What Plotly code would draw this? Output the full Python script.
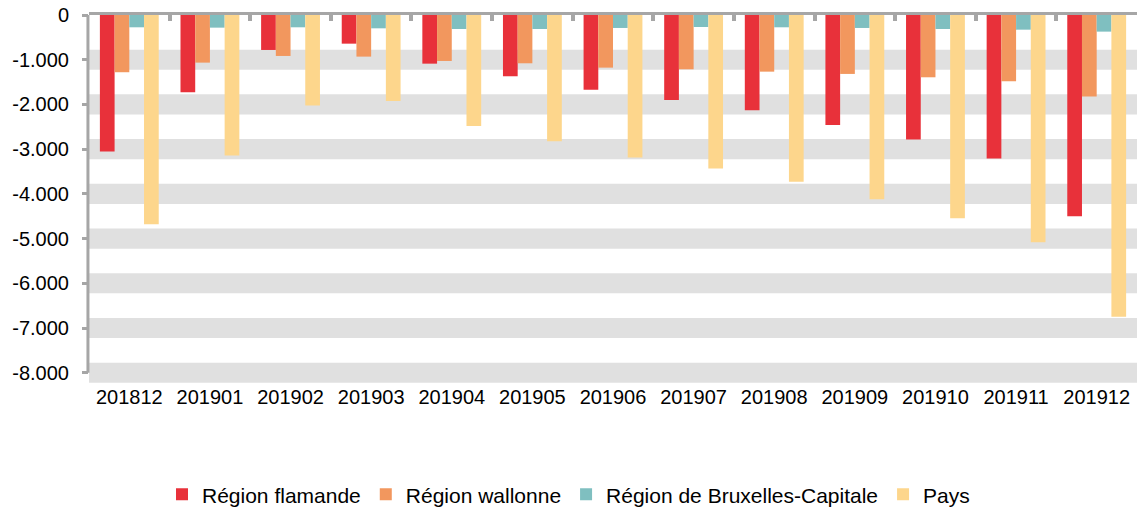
import plotly.graph_objects as go

months = ["201812", "201901", "201902", "201903", "201904", "201905", "201906",
          "201907", "201908", "201909", "201910", "201911", "201912"]
flamande = [-3055, -1728, -782, -641, -1088, -1370, -1669, -1899, -2130, -2458, -2786, -3210, -4500]
wallonne = [-1280, -1065, -916, -931, -1028, -1080, -1177, -1214, -1267, -1318, -1393, -1483, -1825]
bruxelles = [-275, -283, -275, -298, -313, -313, -290, -268, -275, -290, -313, -328, -372]
pays = [-4680, -3143, -2026, -1922, -2480, -2823, -3188, -3434, -3732, -4120, -4545, -5080, -6750]

series_names = ["Région flamande", "Région wallonne", "Région de Bruxelles-Capitale", "Pays"]
series_values = [flamande, wallonne, bruxelles, pays]
colors = ["#E8313A", "#F2975E", "#7FBFC0", "#FDD68C"]

y_tickvals = [0, -1000, -2000, -3000, -4000, -5000, -6000, -7000, -8000]
y_ticktext = ["0", "-1.000", "-2.000", "-3.000", "-4.000", "-5.000", "-6.000", "-7.000", "-8.000"]

FONT = "Arial, Liberation Sans, sans-serif"
GRAY = "#A6A6A6"
BAND = "#E0E0E0"
band_half = 225
x_range = [-0.5, len(months) - 0.5]

fig = go.Figure()
for name, vals, col in zip(series_names, series_values, colors):
    fig.add_trace(go.Bar(x=months, y=vals, name=name, marker=dict(color=col, line=dict(width=0))))

# invisible trace to anchor top axis
fig.add_trace(go.Scatter(x=months, y=[0] * len(months), xaxis="x2", mode="markers",
                         marker=dict(opacity=0, size=1), showlegend=False, hoverinfo="skip"))

shapes = []
for v in y_tickvals[1:]:
    shapes.append(dict(type="rect", xref="paper", yref="y", x0=0, x1=1,
                       y0=v + band_half, y1=v - band_half, fillcolor=BAND,
                       line=dict(width=0), layer="below"))
shapes.append(dict(type="line", xref="paper", yref="y", x0=-0.001, x1=-0.001,
                   y0=y_tickvals[0], y1=y_tickvals[-1], line=dict(color=GRAY, width=3)))

fig.update_layout(
    template="none",
    width=1137, height=510,
    margin=dict(l=89, r=0, t=15, b=127, autoexpand=False),
    paper_bgcolor="white", plot_bgcolor="white",
    font=dict(family=FONT, size=20, color="#000000"),
    barmode="group", bargap=0.27, bargroupgap=0,
    shapes=shapes,
    showlegend=True,
    legend=dict(orientation="h", xref="container", yref="container",
                x=0.5, xanchor="center", y=0.03, yanchor="middle",
                font=dict(size=21, family=FONT), itemwidth=30, traceorder="normal",
                bgcolor="rgba(0,0,0,0)"),
    xaxis=dict(type="category", range=x_range, showline=False, showgrid=False, ticks="",
               automargin=False, tickfont=dict(size=20), zeroline=False),
    xaxis2=dict(type="category", overlaying="x", side="top", matches="x", automargin=False,
                range=x_range,
                showline=True, linecolor=GRAY, linewidth=3,
                ticks="inside", tickson="boundaries", ticklen=6, tickwidth=4, tickcolor=GRAY,
                showticklabels=False, showgrid=False, zeroline=False),
    yaxis=dict(range=[-8000 - band_half - 5, 0], tickvals=y_tickvals, ticktext=y_ticktext,
               showgrid=False, zeroline=False, showline=False, automargin=False,
               ticks="outside", ticklen=6, tickwidth=3, tickcolor=GRAY,
               ticklabelstandoff=9, tickfont=dict(size=20)),
)

fig.write_html("out.html", config={"displayModeBar": False},
               post_script="document.body.style.margin='0';document.body.style.padding='0';")
